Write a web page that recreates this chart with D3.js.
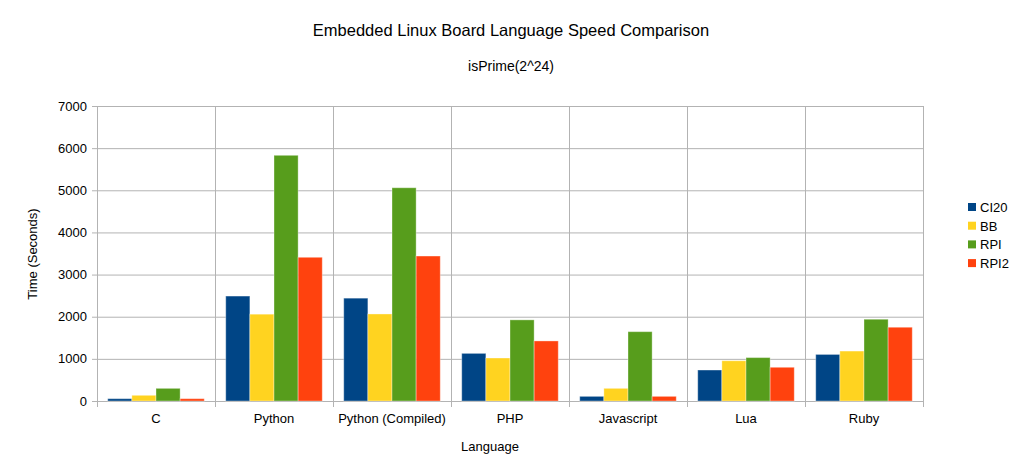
<!DOCTYPE html>
<html>
<head>
<meta charset="UTF-8">
<title>Language Speed</title>
<style>
  body { margin: 0; background: #fff; }
  text { font-family: "Liberation Sans", Arial, sans-serif; fill: #000; }
</style>
</head>
<body>
<div id="chart"></div>
<script src="https://d3js.org/d3.v7.min.js"></script>
<script>
  let width = 1022;
  let height = 473;

  let languages = ["C", "Python", "Python (Compiled)", "PHP", "Javascript", "Lua", "Ruby"];
  let boards = ["CI20", "BB", "RPI", "RPI2"];
  let colors = ["#004586", "#ffd320", "#579d1c", "#ff420e"];

  let ci20 = [55, 2490, 2440, 1130, 110, 735, 1105];
  let bb = [135, 2060, 2065, 1020, 300, 955, 1185];
  let rpi = [300, 5830, 5060, 1925, 1645, 1030, 1940];
  let rpi2 = [55, 3410, 3440, 1425, 110, 800, 1750];
  let yTicks = [0, 1000, 2000, 3000, 4000, 5000, 6000, 7000];

  let series = [ci20, bb, rpi, rpi2];

  let plotLeft = 97, plotRight = 923, plotTop = 106, plotBottom = 401;

  let svg = d3.select("#chart").append("svg").attr("width", width).attr("height", height);

  let x = d3.scaleBand().domain(languages).range([plotLeft, plotRight]);
  let x1 = d3.scaleBand().domain(boards).range([0, x.bandwidth()]).paddingOuter(0.445).paddingInner(0);
  let y = d3.scaleLinear().domain([0, 7000]).range([plotBottom, plotTop]);

  // horizontal grid
  svg.selectAll(".hgrid").data(yTicks).enter().append("line")
    .attr("x1", plotLeft - 5).attr("x2", plotRight)
    .attr("y1", d => y(d) + 0.5).attr("y2", d => y(d) + 0.5)
    .attr("stroke", "#b3b3b3").attr("stroke-width", 1);

  // vertical grid at category boundaries
  let bounds = languages.map(d => x(d)).concat([plotRight]);
  svg.selectAll(".vgrid").data(bounds).enter().append("line")
    .attr("x1", d => Math.round(d) + 0.5).attr("x2", d => Math.round(d) + 0.5)
    .attr("y1", plotTop).attr("y2", plotBottom + 6)
    .attr("stroke", "#b3b3b3").attr("stroke-width", 1);

  // bars
  boards.forEach(function(b, i) {
    svg.selectAll(".bar" + i).data(languages).enter().append("rect")
      .attr("x", d => x(d) + x1(b))
      .attr("y", (d, j) => y(series[i][j]))
      .attr("width", x1.bandwidth())
      .attr("height", (d, j) => plotBottom - y(series[i][j]))
      .attr("fill", colors[i])
      .attr("stroke", "rgba(255,255,255,0.35)")
      .attr("stroke-width", 1);
  });

  // y tick labels
  svg.selectAll(".ylab").data(yTicks).enter().append("text")
    .attr("x", 87).attr("y", d => y(d) + 4.5)
    .attr("text-anchor", "end").attr("font-size", "13px")
    .text(d => d);

  // x tick labels
  svg.selectAll(".xlab").data(languages).enter().append("text")
    .attr("x", d => x(d) + x.bandwidth() / 2).attr("y", 423)
    .attr("text-anchor", "middle").attr("font-size", "13px")
    .text(d => d);

  // titles
  svg.append("text").attr("x", 511).attr("y", 35.5).attr("text-anchor", "middle")
    .attr("font-size", "16.5px").text("Embedded Linux Board Language Speed Comparison");
  svg.append("text").attr("x", 511).attr("y", 70.5).attr("text-anchor", "middle")
    .attr("font-size", "14px").text("isPrime(2^24)");
  svg.append("text").attr("x", 490).attr("y", 451).attr("text-anchor", "middle")
    .attr("font-size", "13px").text("Language");
  svg.append("text").attr("transform", "translate(37,254) rotate(-90)").attr("text-anchor", "middle")
    .attr("font-size", "13px").text("Time (Seconds)");

  // legend
  let legend = svg.selectAll(".legend").data(boards).enter().append("g")
    .attr("transform", (d, i) => "translate(968," + (203 + i * 18.7) + ")");
  legend.append("rect").attr("width", 8).attr("height", 8).attr("fill", (d, i) => colors[i]);
  legend.append("text").attr("x", 12).attr("y", 9).attr("font-size", "13px").text(d => d);
</script>
</body>
</html>
